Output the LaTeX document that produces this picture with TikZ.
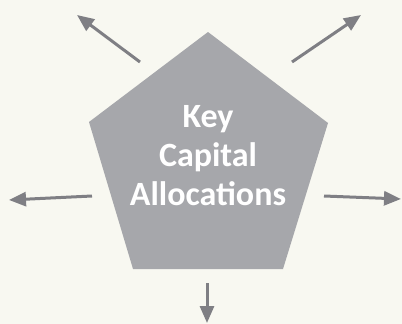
\documentclass[tikz,border=0pt]{standalone}
\usepackage{fontspec}
\setmainfont{Carlito}
\usetikzlibrary{arrows.meta,positioning}
\definecolor{bgcream}{HTML}{F8F8F1}
\definecolor{pentagray}{HTML}{A6A7AB}
\definecolor{arrowgray}{HTML}{7F7F84}

\begin{document}
\begin{tikzpicture}[x=1pt,y=-1pt]
		\tikzstyle{every node}=[font=\fontsize{34}{39}\selectfont\bfseries]
		\tikzset{outarrow/.style={line width=3pt, arrowgray, -{Triangle[length=17pt,width=14pt]}}}
		\fill [bgcream] (0,0) rectangle (402,324);
		\useasboundingbox (0,0) rectangle (402,324);
		% pentagon corners
		\coordinate (ptop) at (208,32);
		\coordinate (pright) at (328,123);
		\coordinate (pbright) at (283,269);
		\coordinate (pbleft) at (133,269);
		\coordinate (pleft) at (89,122);
		\fill [pentagray] (ptop) -- (pright) -- (pbright) -- (pbleft) -- (pleft) -- cycle;
		\node [text=white, align=center, inner sep=0pt] (title) at (208,156) {Key\\Capital\\Allocations};
		% arrow ends
		\coordinate (ulfrom) at (140,62);
		\coordinate (ulto) at (77,15);
		\coordinate (urfrom) at (292,62);
		\coordinate (urto) at (361,15);
		\coordinate (lfrom) at (92,196);
		\coordinate (lto) at (9,200);
		\coordinate (rfrom) at (324,196);
		\coordinate (rto) at (401,199);
		\coordinate (bfrom) at (207,283);
		\coordinate (bto) at (207,323);
		\draw [outarrow] (ulfrom) -- (ulto);
		\draw [outarrow] (urfrom) -- (urto);
		\draw [outarrow] (lfrom) -- (lto);
		\draw [outarrow] (rfrom) -- (rto);
		\draw [outarrow] (bfrom) -- (bto);
	\end{tikzpicture}
\end{document}
